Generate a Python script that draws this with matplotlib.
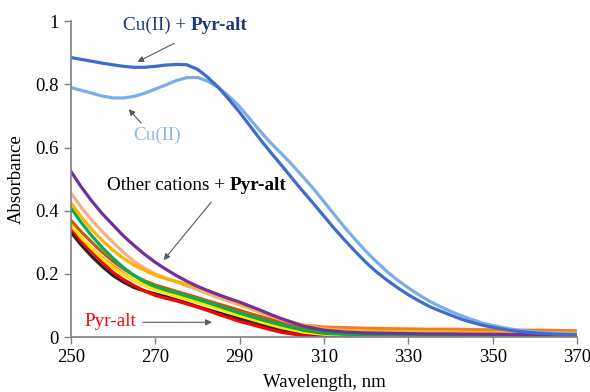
import matplotlib
matplotlib.use("Agg")
from matplotlib import pyplot as plt

plt.rcParams['font.family'] = ['Liberation Serif', 'DejaVu Serif']

# wavelength grids (nm)
wl_cu = [250, 252.5, 255, 257.5, 260, 262.5, 265, 267.5, 270, 272.5, 275, 277.5,
         280, 282.5, 285, 287.5, 290, 292.5, 295, 297.5, 300, 302.5, 305, 307.5,
         310, 312.5, 315, 317.5, 320, 322.5, 325, 327.5, 330, 332.5, 335, 337.5,
         340, 342.5, 345, 347.5, 350, 352.5, 355, 357.5, 360, 362.5, 365, 367.5, 370]
wl = [250, 252.5, 255, 257.5, 260, 262.5, 265, 267.5, 270, 272.5, 275, 277.5,
      280, 282.5, 285, 287.5, 290, 292.5, 295, 297.5, 300,
      305, 310, 315, 320, 325, 330, 335, 340, 345, 350, 355, 360, 365, 370]

cu_pyr = [0.885, 0.879, 0.873, 0.867, 0.862, 0.857, 0.854, 0.854, 0.857, 0.861,
          0.863, 0.862, 0.848, 0.822, 0.790, 0.752, 0.712, 0.668, 0.624, 0.583,
          0.543, 0.502, 0.462, 0.423, 0.383, 0.343, 0.306, 0.270, 0.236, 0.206,
          0.180, 0.156, 0.134, 0.115, 0.097, 0.083, 0.070, 0.057, 0.047, 0.038,
          0.031, 0.025, 0.020, 0.016, 0.013, 0.011, 0.009, 0.008, 0.007]
cu = [0.790, 0.781, 0.772, 0.763, 0.757, 0.757, 0.762, 0.772, 0.785, 0.798,
      0.812, 0.821, 0.822, 0.810, 0.790, 0.762, 0.730, 0.690, 0.650, 0.613,
      0.580, 0.545, 0.508, 0.470, 0.429, 0.387, 0.346, 0.308, 0.271, 0.238,
      0.207, 0.180, 0.156, 0.134, 0.114, 0.097, 0.082, 0.068, 0.056, 0.045,
      0.037, 0.030, 0.024, 0.020, 0.016, 0.013, 0.011, 0.010, 0.009]

# other cations + Pyr-alt
purple = [0.525, 0.475, 0.430, 0.390, 0.355, 0.320, 0.290, 0.262, 0.237, 0.215,
          0.195, 0.177, 0.161, 0.147, 0.134, 0.122, 0.111, 0.098, 0.085, 0.071,
          0.058, 0.035, 0.022, 0.016, 0.013, 0.012, 0.011, 0.010, 0.010, 0.009,
          0.009, 0.008, 0.008, 0.008, 0.008]
peach = [0.457, 0.410, 0.370, 0.333, 0.300, 0.268, 0.240, 0.218, 0.200, 0.187,
         0.175, 0.162, 0.150, 0.137, 0.125, 0.113, 0.102, 0.090, 0.078, 0.066,
         0.055, 0.036, 0.025, 0.020, 0.018, 0.017, 0.016, 0.015, 0.015, 0.014,
         0.014, 0.013, 0.013, 0.012, 0.012]
gold = [0.425, 0.380, 0.340, 0.305, 0.275, 0.249, 0.228, 0.211, 0.196, 0.185,
        0.176, 0.167, 0.158, 0.147, 0.135, 0.122, 0.108, 0.095, 0.082, 0.070,
        0.058, 0.038, 0.026, 0.021, 0.019, 0.018, 0.017, 0.016, 0.016, 0.015,
        0.015, 0.014, 0.014, 0.013, 0.013]
green = [0.410, 0.362, 0.320, 0.283, 0.250, 0.220, 0.195, 0.175, 0.160, 0.149,
         0.140, 0.130, 0.120, 0.109, 0.098, 0.087, 0.076, 0.066, 0.056, 0.047,
         0.038, 0.022, 0.012, 0.009, 0.008, 0.008, 0.007, 0.007, 0.007, 0.006,
         0.006, 0.006, 0.005, 0.005, 0.005]
brown = [0.370, 0.333, 0.300, 0.268, 0.240, 0.216, 0.195, 0.178, 0.165, 0.155,
         0.145, 0.135, 0.125, 0.115, 0.105, 0.095, 0.085, 0.074, 0.064, 0.054,
         0.045, 0.027, 0.015, 0.011, 0.010, 0.009, 0.009, 0.008, 0.008, 0.008,
         0.007, 0.007, 0.007, 0.006, 0.006]
yellow = [0.355, 0.315, 0.280, 0.248, 0.220, 0.198, 0.180, 0.164, 0.150, 0.140,
          0.130, 0.120, 0.110, 0.100, 0.090, 0.079, 0.068, 0.058, 0.048, 0.039,
          0.030, 0.016, 0.009, 0.007, 0.006, 0.006, 0.006, 0.005, 0.005, 0.005,
          0.005, 0.005, 0.004, 0.004, 0.004]
orange = [0.350, 0.313, 0.280, 0.250, 0.225, 0.201, 0.180, 0.165, 0.152, 0.144,
          0.136, 0.127, 0.118, 0.109, 0.100, 0.092, 0.083, 0.074, 0.065, 0.057,
          0.050, 0.038, 0.032, 0.030, 0.028, 0.027, 0.026, 0.025, 0.025, 0.024,
          0.023, 0.022, 0.022, 0.021, 0.020]
black = [0.333, 0.291, 0.255, 0.223, 0.195, 0.174, 0.157, 0.146, 0.137, 0.128,
         0.118, 0.108, 0.097, 0.087, 0.077, 0.067, 0.058, 0.049, 0.040, 0.031,
         0.022, 0.008, 0.003, 0.002, 0.002, 0.002, 0.002, 0.002, 0.002, 0.002,
         0.002, 0.002, 0.002, 0.002, 0.002]
# Pyr-alt alone
pyr = [0.345, 0.303, 0.270, 0.236, 0.205, 0.182, 0.163, 0.146, 0.132, 0.123,
       0.115, 0.105, 0.095, 0.084, 0.072, 0.061, 0.050, 0.041, 0.032, 0.023,
       0.015, 0.005, 0.002, 0.001, 0.001, 0.001, 0.001, 0.001, 0.001, 0.001,
       0.001, 0.001, 0.001, 0.001, 0.001]

fig = plt.figure(figsize=(5.9, 3.92), dpi=100)
ax = fig.add_axes([0.120, 0.140, 0.858, 0.806])

lw = 2.3
ax.plot(wl, orange, color='#ED7D31', lw=lw)
ax.plot(wl, black, color='#262626', lw=lw)
ax.plot(wl, pyr, color='#FF0000', lw=lw)
ax.plot(wl, yellow, color='#FFE600', lw=lw)
ax.plot(wl, brown, color='#C55A11', lw=lw)
ax.plot(wl, green, color='#00B050', lw=lw)
ax.plot(wl, peach, color='#F4B183', lw=lw)
ax.plot(wl, gold, color='#FFB000', lw=lw)
ax.plot(wl, purple, color='#7030A0', lw=lw)
ax.plot(wl_cu, cu, color='#7AAEE4', lw=lw)
ax.plot(wl_cu, cu_pyr, color='#3D6CCC', lw=lw)

ax.set_xlim(250, 370)
ax.set_ylim(0, 1)
ax.set_xticks([250, 270, 290, 310, 330, 350, 370])
ax.set_yticks([0, 0.2, 0.4, 0.6, 0.8, 1.0])
ax.set_yticklabels(['0', '0.2', '0.4', '0.6', '0.8', '1'])
ax.tick_params(labelsize=13.5, color='#808080', length=5, width=1)
for s in ['top', 'right']:
    ax.spines[s].set_visible(False)
for s in ['left', 'bottom']:
    ax.spines[s].set_color('#808080')
    ax.spines[s].set_linewidth(1.2)
ax.set_xlabel('Wavelength, nm', fontsize=13.5, labelpad=6)
ax.set_ylabel('Absorbance', fontsize=13.5, labelpad=8)

arrow = dict(arrowstyle='-|>', color='#595959', lw=0.8, mutation_scale=9)
fs = 13.8

# labels
ax.text(278.5, 0.987, 'Cu(II) + ', color='#1F3A7A', fontsize=fs, ha='right', va='center')
ax.text(278.5, 0.987, 'Pyr-alt', color='#1F3A7A', fontsize=fs, ha='left', va='center',
        fontweight='bold')
ax.annotate('', xy=(265.2, 0.867), xytext=(275.1, 0.934), arrowprops=arrow)

ax.text(270.4, 0.639, 'Cu(II)', color='#8DB8E6', fontsize=fs, ha='center', va='center')
ax.annotate('', xy=(263.3, 0.728), xytext=(267.1, 0.671), arrowprops=arrow)

ax.text(287.7, 0.481, 'Other cations + ', color='black', fontsize=fs, ha='right', va='center')
ax.text(287.7, 0.481, 'Pyr-alt', color='black', fontsize=fs, ha='left', va='center',
        fontweight='bold')
ax.annotate('', xy=(271.6, 0.237), xytext=(283.7, 0.434), arrowprops=arrow)

ax.text(259.4, 0.048, 'Pyr-alt', color='#FF0000', fontsize=fs, ha='center', va='center')
ax.annotate('', xy=(284.1, 0.047), xytext=(266.4, 0.047), arrowprops=arrow)

fig.savefig('out.png', dpi=100)
